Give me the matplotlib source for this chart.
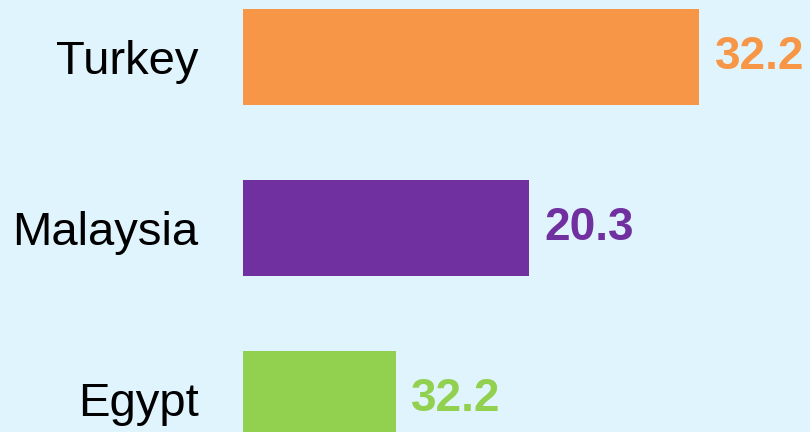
import matplotlib
matplotlib.use("Agg")
import matplotlib.pyplot as plt

categories = ["Turkey", "Malaysia", "Egypt"]
bar_values = [32.2, 20.2, 10.8]
value_labels = ["32.2", "20.3", "32.2"]
colors = ["#F79646", "#7030A0", "#92D050"]
bg = "#E0F4FD"

plt.rcParams['font.family'] = ['Liberation Sans', 'DejaVu Sans']

fig = plt.figure(figsize=(8.1, 4.32), dpi=100, facecolor=bg)
ax = fig.add_axes([243/810, 0, 1 - 243/810, 1])
ax.set_facecolor(bg)

y = list(range(len(categories)))
ax.barh(y, bar_values, height=0.56, color=colors)
ax.set_xlim(0, 40)
ax.set_ylim(2 + 33/171, -57/171)

for yi, v, lab, c in zip(y, bar_values, value_labels, colors):
    ax.annotate(lab, (v, yi), xytext=(11, 0), textcoords="offset points",
                ha="left", va="center", fontsize=33, fontweight="bold", color=c)

ax.set_yticks(y)
ax.set_yticklabels(categories, fontsize=34, color="#000000")
ax.tick_params(axis="y", length=0, pad=32)
ax.set_xticks([])
for s in ax.spines.values():
    s.set_visible(False)

fig.savefig("out.png", dpi=100, facecolor=bg)
